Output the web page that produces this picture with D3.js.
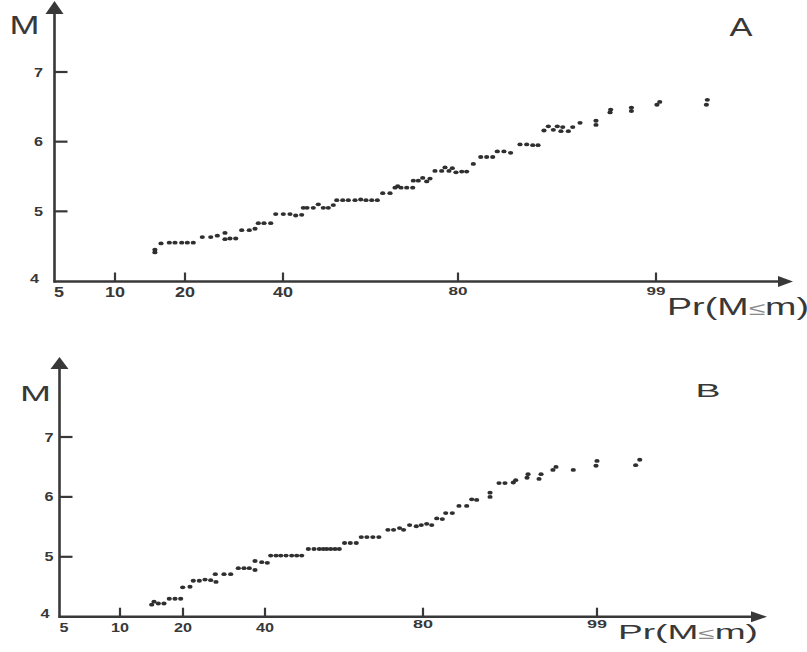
<!DOCTYPE html>
<html>
<head>
<meta charset="utf-8">
<script src="https://cdn.jsdelivr.net/npm/d3@7"></script>
<style>
  html, body { margin: 0; padding: 0; background: #fff; overflow: hidden; }
  svg { display: block; }
</style>
</head>
<body>
<svg id="chart" width="807" height="652"></svg>
<script>
// ---- data -------------------------------------------------------------
const xTickValues = [5, 10, 20, 40, 80, 99];
const yTickValues = [4, 5, 6, 7];
const panelNames = ["A", "B"];
const axisTitleY = "M";
const axisTitleX = ["Pr(M", "\u2264", "m)"];

// panel A: cumulative probability (%) and magnitude
const probA = [15.7, 15.7, 16.57, 17.76, 18.57, 19.53, 20.47, 21.69, 23.53, 25.25,
  26.59, 28.16, 28.16, 29.18, 30.35, 31.57, 33.12, 34.29, 34.96, 36.12,
  37.49, 38.51, 40.07, 41.60, 42.90, 44.27, 44.64, 45.49, 46.93, 48.07,
  49.21, 50.36, 51.50, 52.28, 53.65, 54.93, 56.46, 57.76, 58.97, 60.28,
  61.56, 62.79, 64.46, 65.60, 66.22, 66.97, 68.28, 69.65, 69.79, 70.93,
  71.93, 72.85, 73.60, 74.74, 76.27, 77.03, 77.94, 78.70, 79.54, 80.36,
  80.83, 81.47, 82.18, 82.75, 83.33, 83.77, 84.41, 85.05, 85.95, 86.59,
  87.17, 87.68, 88.25, 88.67, 89.15, 89.53, 89.88, 90.05, 90.59, 91.01,
  91.71, 93.24, 93.24, 94.65, 94.59, 96.64, 96.64, 99.04, 99.01, 99.55, 99.54];
const magA = [4.41, 4.45, 4.54, 4.55, 4.55, 4.55, 4.55, 4.55, 4.63, 4.63,
  4.65, 4.69, 4.60, 4.61, 4.61, 4.73, 4.73, 4.75, 4.83, 4.83,
  4.83, 4.96, 4.96, 4.96, 4.94, 4.95, 5.05, 5.05, 5.05, 5.10,
  5.05, 5.05, 5.09, 5.16, 5.16, 5.16, 5.16, 5.17, 5.16, 5.16,
  5.16, 5.26, 5.26, 5.34, 5.36, 5.34, 5.34, 5.34, 5.44, 5.44,
  5.48, 5.43, 5.47, 5.58, 5.58, 5.63, 5.58, 5.62, 5.56, 5.57,
  5.57, 5.68, 5.78, 5.78, 5.78, 5.86, 5.86, 5.84, 5.96, 5.96,
  5.95, 5.95, 6.16, 6.22, 6.17, 6.22, 6.15, 6.21, 6.15, 6.21,
  6.27, 6.30, 6.24, 6.46, 6.42, 6.49, 6.44, 6.57, 6.53, 6.60, 6.53];

// panel B: cumulative probability (%) and magnitude
const probB = [15.03, 15.40, 16.08, 16.98, 17.82, 18.73, 19.63, 19.95, 21.71, 22.51,
  23.98, 25.37, 26.76, 28.05, 27.88, 30.00, 31.63, 33.49, 34.88, 36.17,
  37.56, 37.56, 39.20, 40.58, 41.44, 42.79, 43.98, 45.32, 46.76, 48.03,
  49.29, 50.97, 52.41, 53.75, 54.76, 55.62, 56.63, 57.72, 58.81, 60.14,
  61.59, 63.11, 64.37, 65.79, 67.31, 68.83, 71.11, 72.55, 74.07, 75.08,
  76.61, 78.30, 79.57, 80.40, 80.95, 81.50, 82.11, 82.48, 83.20, 83.93,
  84.77, 85.32, 85.86, 87.32, 87.32, 88.30, 88.95, 89.86, 90.12, 91.47,
  91.36, 92.89, 92.67, 94.52, 94.19, 96.41, 99.00, 98.89, 99.52, 99.47];
const magB = [4.20, 4.25, 4.22, 4.22, 4.30, 4.30, 4.30, 4.49, 4.50, 4.60,
  4.60, 4.62, 4.61, 4.58, 4.71, 4.71, 4.71, 4.81, 4.81, 4.81,
  4.78, 4.93, 4.91, 4.90, 5.02, 5.02, 5.02, 5.02, 5.02, 5.02,
  5.02, 5.13, 5.13, 5.13, 5.13, 5.13, 5.13, 5.13, 5.13, 5.23,
  5.23, 5.23, 5.33, 5.33, 5.33, 5.33, 5.45, 5.45, 5.48, 5.45,
  5.53, 5.51, 5.53, 5.55, 5.53, 5.64, 5.63, 5.73, 5.73, 5.85,
  5.85, 5.96, 5.95, 6.07, 6.00, 6.23, 6.23, 6.24, 6.28, 6.38,
  6.32, 6.38, 6.30, 6.50, 6.45, 6.45, 6.60, 6.52, 6.62, 6.53];

// probability-paper axis: piecewise linear between the printed probabilities
const probDomain = [5, 10, 20, 40, 80, 99, 99.9];
const magDomain = [4, 7];

// ---- layout -----------------------------------------------------------
const panels = [
  {
    name: panelNames[0], prob: probA, mag: magA,
    xRange: [59, 115, 185, 283, 458, 656, 740], yRange: [281, 72],
    ox: 54.5, oy: 281.5, yTip: 1, yHeadBase: 14, xTip: 793, xHeadBase: 778,
    yTickLen: 13, xTickLen: 9,
    yLab: { dx: -16, base: 4.5, size: 12.5, w: 9 },
    xLabBig: { base: 297, size: 14, w: 10 }, xLabSmall: { base: 295, size: 11, w: 9.5 },
    mTitle: { x: 24.5, y: 34, size: 26.5, w: 30 },
    name_: { x: 741, y: 36, size: 25, w: 23 },
    prTitle: { x: 667, y: 315, size: 23, w: 142 }
  },
  {
    name: panelNames[1], prob: probB, mag: magB,
    xRange: [64, 120, 183, 265, 423, 597, 671], yRange: [616.7, 437],
    ox: 59.5, oy: 616.7, yTip: 357, yHeadBase: 369, xTip: 767, xHeadBase: 751,
    yTickLen: 13, xTickLen: 9,
    yLab: { dx: -10.5, base: 4.5, size: 12.5, w: 9 },
    xLabBig: { base: 632, size: 12.5, w: 9 }, xLabSmall: { base: 628, size: 10, w: 10 },
    mTitle: { x: 35.5, y: 400.7, size: 22, w: 31 },
    name_: { x: 708, y: 397, size: 18.7, w: 25 },
    prTitle: { x: 618, y: 639, size: 20, w: 140 }
  }
];

const ink = "#383838";
const font = "'Liberation Sans', Arial, Helvetica, sans-serif";
const svg = d3.select("#chart");

function stretchedText(g, str, x, y, size, width, anchor, weight) {
  return g.append("text")
    .attr("x", x).attr("y", y)
    .attr("font-family", font)
    .attr("font-size", size)
    .attr("font-weight", weight || "normal")
    .attr("fill", ink)
    .attr("text-anchor", anchor || "middle")
    .attr("textLength", width)
    .attr("lengthAdjust", "spacingAndGlyphs")
    .text(str);
}

panels.forEach(p => {
  const g = svg.append("g");
  const x = d3.scaleLinear().domain(probDomain).range(p.xRange);
  const y = d3.scaleLinear().domain(magDomain).range(p.yRange);

  // axes with arrow heads
  g.append("line").attr("x1", p.ox).attr("y1", p.oy + 1).attr("x2", p.ox).attr("y2", p.yHeadBase)
    .attr("stroke", ink).attr("stroke-width", 2.6);
  g.append("line").attr("x1", p.ox - 1).attr("y1", p.oy).attr("x2", p.xHeadBase).attr("y2", p.oy)
    .attr("stroke", ink).attr("stroke-width", 2.6);
  g.append("path")
    .attr("d", `M${p.ox},${p.yTip} L${p.ox + 9},${p.yHeadBase} L${p.ox - 9},${p.yHeadBase} Z`)
    .attr("fill", ink);
  g.append("path")
    .attr("d", `M${p.xTip},${p.oy} L${p.xHeadBase},${p.oy - 5.5} L${p.xHeadBase},${p.oy + 5.5} Z`)
    .attr("fill", ink);

  // y ticks (drawn inward) and labels
  yTickValues.forEach(v => {
    if (v > magDomain[0]) {
      g.append("line").attr("x1", p.ox).attr("x2", p.ox + p.yTickLen)
        .attr("y1", y(v)).attr("y2", y(v))
        .attr("stroke", ink).attr("stroke-width", 2.2);
    }
    const ly = v === magDomain[0] ? p.oy + 1.5 : y(v) + p.yLab.base;
    const lx = p.ox + p.yLab.dx - (v === magDomain[0] ? 4 : 0);
    stretchedText(g, String(v), lx, ly, p.yLab.size, p.yLab.w, "middle", "bold");
  });

  // x ticks (drawn inward) and labels
  xTickValues.forEach(v => {
    if (v > probDomain[0]) {
      g.append("line").attr("x1", x(v)).attr("x2", x(v))
        .attr("y1", p.oy).attr("y2", p.oy - p.xTickLen)
        .attr("stroke", ink).attr("stroke-width", 2.2);
    }
    const s = v >= 80 ? p.xLabSmall : p.xLabBig;
    const str = String(v);
    stretchedText(g, str, x(v), s.base, s.size, s.w * str.length, "middle", "bold");
  });

  // points
  g.append("g").selectAll("ellipse")
    .data(d3.range(p.prob.length))
    .join("ellipse")
    .attr("cx", i => x(p.prob[i]))
    .attr("cy", i => y(p.mag[i]))
    .attr("rx", 2.6).attr("ry", 1.9)
    .attr("fill", "#2f2f2f");

  // titles
  stretchedText(g, axisTitleY, p.mTitle.x, p.mTitle.y, p.mTitle.size, p.mTitle.w);
  stretchedText(g, p.name, p.name_.x, p.name_.y, p.name_.size, p.name_.w);

  const t = g.append("text")
    .attr("x", p.prTitle.x).attr("y", p.prTitle.y)
    .attr("font-family", font).attr("font-size", p.prTitle.size)
    .attr("fill", ink)
    .attr("textLength", p.prTitle.w)
    .attr("lengthAdjust", "spacingAndGlyphs");
  t.append("tspan").text(axisTitleX[0]);
  t.append("tspan").attr("fill", "#8a8a8a").attr("font-size", p.prTitle.size * 0.8).text(axisTitleX[1]);
  t.append("tspan").text(axisTitleX[2]);
});
</script>
</body>
</html>
